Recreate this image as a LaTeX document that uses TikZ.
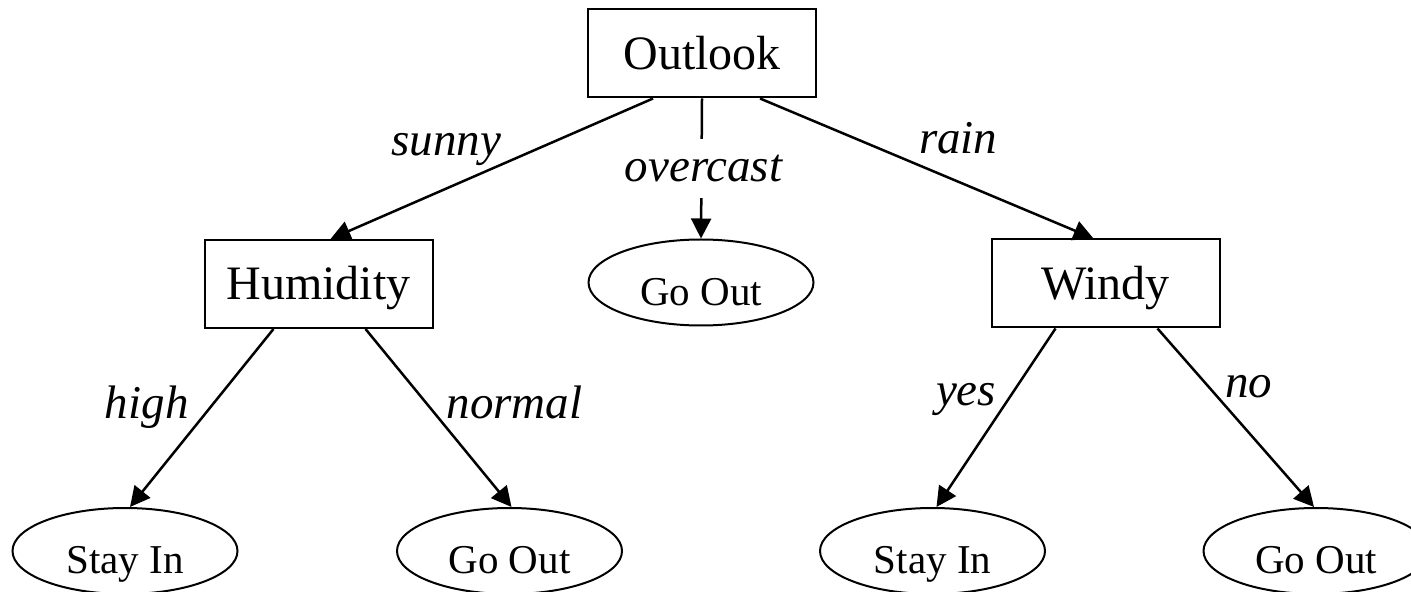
\documentclass[tikz,border=0pt]{standalone}
\usepackage{fontspec}
\setmainfont{Liberation Serif}
\usetikzlibrary{shapes.geometric,arrows.meta}

\begin{document}
\begin{tikzpicture}[x=0.5pt,y=-0.5pt,
    test/.style={draw,line width=1pt,minimum width=114pt,minimum height=44pt,inner sep=0pt,
      text height=16pt,text depth=0pt,font=\fontsize{24}{28}\selectfont},
    leaf/.style={draw,ellipse,line width=1pt,minimum width=112.5pt,minimum height=43pt,inner sep=0pt,
      text height=22.6pt,text depth=0pt,font=\fontsize{20.5}{24}\selectfont},
    edge/.style={line width=1.25pt,-{Triangle[length=10pt,width=10pt]}},
    lbl/.style={font=\fontsize{23.5}{28}\selectfont\itshape}]
      \useasboundingbox (0,0) rectangle (1411,592);
      \node[test] (outlook) at (702,53.5) {Outlook};
      \node[test] (humidity) at (318.5,284) {Humidity};
      \node[test] (windy) at (1105.5,283.5) {Windy};
      \node[leaf] (goout) at (701,282.5) {Go Out};
      \node[leaf] (stayin1) at (125,551) {Stay In};
      \node[leaf] (goout1) at (509.5,551) {Go Out};
      \node[leaf] (stayin2) at (932.5,551) {Stay In};
      \node[leaf] (goout2) at (1316,551) {Go Out};
      \draw[edge] ([xshift=-24.5pt]outlook.south) -- node[lbl,xshift=-22.75pt,yshift=9.5pt]{sunny} ([xshift=6pt]humidity.north);
      \draw[edge] (outlook.south) -- node[lbl,fill=white,inner xsep=2pt,inner ysep=8pt,xshift=1pt]{overcast} (goout.north);
      \draw[edge] ([xshift=29pt]outlook.south) -- node[lbl,xshift=15.75pt,yshift=15pt]{rain} ([xshift=-6pt]windy.north);
      \draw[edge] ([xshift=-22.5pt]humidity.south) -- node[lbl,xshift=-27.5pt,yshift=5.5pt]{high} ([xshift=2.5pt]stayin1.north);
      \draw[edge] ([xshift=23.5pt]humidity.south) -- node[lbl,xshift=38pt,yshift=8pt]{normal} ([xshift=1pt]goout1.north);
      \draw[edge] ([xshift=-25pt]windy.south) -- node[lbl,xshift=-15pt,yshift=9.25pt]{yes} ([xshift=2pt]stayin2.north);
      \draw[edge] ([xshift=26pt]windy.south) -- node[lbl,xshift=6.5pt,yshift=15.75pt]{no} ([xshift=-1pt]goout2.north);
    \end{tikzpicture}
\end{document}
